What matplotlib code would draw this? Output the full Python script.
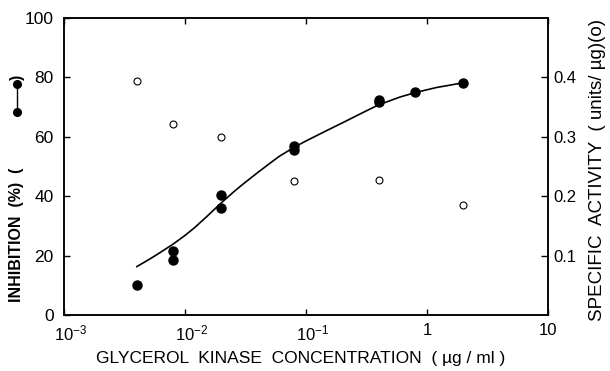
import numpy as np
import matplotlib
matplotlib.use("Agg")
import matplotlib.pyplot as plt
from matplotlib.lines import Line2D
from matplotlib.ticker import FixedLocator, FixedFormatter
from matplotlib.transforms import ScaledTranslation

plt.rcParams['font.family'] = ['Liberation Sans', 'DejaVu Sans']
plt.rcParams['mathtext.fontset'] = 'custom'
plt.rcParams['mathtext.rm'] = 'Liberation Sans'
plt.rcParams['mathtext.it'] = 'Liberation Sans'
plt.rcParams['mathtext.default'] = 'regular'

# inhibition (%) vs glycerol kinase concentration (ug/ml), filled circles
inh_x = [0.004, 0.008, 0.008, 0.02, 0.02, 0.08, 0.08, 0.4, 0.4, 0.8, 2.0]
inh_y = [10.0, 21.6, 18.6, 40.4, 36.0, 57.0, 55.6, 72.4, 71.6, 75.2, 78.0]

# fitted curve through the inhibition data
fit_x = [0.004, 0.005, 0.006, 0.008, 0.01, 0.012, 0.015, 0.02, 0.025, 0.03,
         0.04, 0.05, 0.06, 0.08, 0.1, 0.15, 0.2, 0.3, 0.4, 0.6, 0.8, 1.2, 2.0]
fit_y = [16.3, 18.6, 20.6, 23.9, 26.8, 29.4, 33.0, 37.8, 41.3, 44.0,
         48.0, 51.0, 53.4, 56.5, 58.6, 62.2, 64.7, 68.3, 70.8, 73.4, 74.9, 76.6, 78.2]

# specific activity (units/ug), open circles
act_x = [0.004, 0.008, 0.02, 0.08, 0.4, 2.0]
act_y = [0.394, 0.322, 0.300, 0.226, 0.227, 0.186]

x_ticks = [1e-3, 1e-2, 1e-1, 1, 10]
x_tick_labels = [r'$10^{-3}$', r'$10^{-2}$', r'$10^{-1}$', '1', '10']
left_ticks = [0, 20, 40, 60, 80, 100]
right_ticks = [0.1, 0.2, 0.3, 0.4]

fig = plt.figure(figsize=(6.10, 3.71), dpi=100)
ax = fig.add_axes([64 / 610, 1 - 315 / 371, (548 - 64) / 610, (315 - 18) / 371])
ax2 = ax.twinx()

ax.plot(fit_x, fit_y, color='black', lw=1.2, zorder=2)
ax.plot(inh_x, inh_y, 'o', color='black', ms=6.5, zorder=3)
ax2.plot(act_x, act_y, 'o', mfc='white', mec='black', mew=0.8, ms=5, zorder=3)

ax.set_xscale('log')
ax.set_xlim(1e-3, 10)
ax.set_ylim(0, 100)
ax2.set_ylim(0, 0.5)

ax.xaxis.set_major_locator(FixedLocator(x_ticks))
ax.xaxis.set_major_formatter(FixedFormatter(x_tick_labels))
ax.xaxis.set_minor_locator(FixedLocator([]))
ax.set_yticks(left_ticks)
ax2.set_yticks(right_ticks)
ax2.set_yticklabels([f'{v:.1f}' for v in right_ticks])

ax.tick_params(axis='x', which='major', direction='in', length=4, width=1,
               top=True, labelsize=12, pad=6)
ax.tick_params(axis='y', direction='in', length=4, width=1, labelsize=12.5, pad=7.5)
ax2.tick_params(axis='y', direction='in', length=5, width=1, labelsize=12, pad=4)

# power-of-ten labels sit with the mantissa over the tick
shift = ScaledTranslation(0.07, 0, fig.dpi_scale_trans)
for lab in ax.get_xticklabels()[:3]:
    lab.set_transform(lab.get_transform() + shift)

for a in (ax, ax2):
    for s in a.spines.values():
        s.set_linewidth(1.1)

fig.text(301 / 610, 1 - 358 / 371, 'GLYCEROL  KINASE  CONCENTRATION  ( µg / ml )',
         ha='center', va='center', fontsize=12.5)

# left label with the filled-circle symbol embedded
fig.text(17 / 610, 1 - 302 / 371, 'INHIBITION  (%)  (', rotation=90,
         ha='center', va='bottom', fontsize=11.5, fontweight='bold')
fig.add_artist(Line2D([17 / 610, 17 / 610], [1 - 112 / 371, 1 - 84 / 371],
                      color='black', lw=1, marker='o', ms=5.5,
                      transform=fig.transFigure))
fig.text(17 / 610, 1 - 80 / 371, ')', rotation=90,
         ha='center', va='bottom', fontsize=11.5, fontweight='bold')

fig.text(598 / 610, 1 - 170 / 371, 'SPECIFIC  ACTIVITY  ( units/ µg)(o)',
         rotation=90, ha='center', va='center', fontsize=13.5)

fig.savefig('out.png', dpi=100)
